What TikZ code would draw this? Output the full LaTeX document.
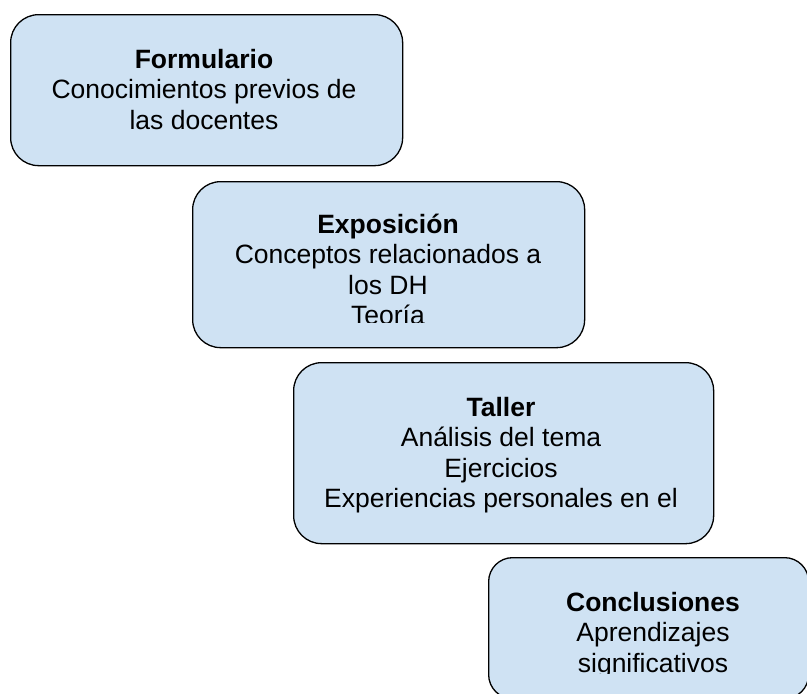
\documentclass[tikz,border=0pt]{standalone}
\usepackage{fontspec}
\setmainfont{Liberation Sans}
\usetikzlibrary{positioning}
\definecolor{cardblue}{HTML}{CFE2F3}

\begin{document}
\begin{tikzpicture}[x=1pt,y=-1pt,
  card/.style={draw=black,line width=1.3pt,fill=cardblue,rounded corners=28pt,
    anchor=north west,inner sep=0pt},
  cardtext/.style={anchor=north,align=center,inner sep=0pt,
    font=\fontsize{26.5}{30.5}\selectfont}]
 \useasboundingbox (0,0) rectangle (807,694);

 % the four steps, stepping down to the right
 \node[card,minimum width=392pt,minimum height=151pt] (form) at (10,14) {};
 \node[card,minimum width=392pt,minimum height=166pt] (expo) at (192,181) {};
 \node[card,minimum width=420pt,minimum height=181pt] (taller) at (293,362) {};
 \node[card,minimum width=320pt,minimum height=141pt,rounded corners=24pt]
   (concl) at (488,557) {};

 \node[cardtext] (formtxt) at (204,46.6)
   {\textbf{Formulario}\strut\\Conocimientos previos de\\las docentes};

 % text frames cut the last lines
 \begin{scope}
  \clip (192,181) rectangle (584,322);
  \node[cardtext] (expotxt) at (388,211.6)
    {\textbf{Exposición}\strut\\Conceptos relacionados a\\los DH\\Teoría};
 \end{scope}
 \node[cardtext] (tallertxt) at (501,394.7)
   {\textbf{Taller}\strut\\Análisis del tema\\Ejercicios\\Experiencias personales en el};
 \begin{scope}
  \clip (488,557) rectangle (807,673);
  \node[cardtext] (concltxt) at (653,589.6)
    {\textbf{Conclusiones}\strut\\Aprendizajes\\significativos};
 \end{scope}
\end{tikzpicture}
\end{document}
